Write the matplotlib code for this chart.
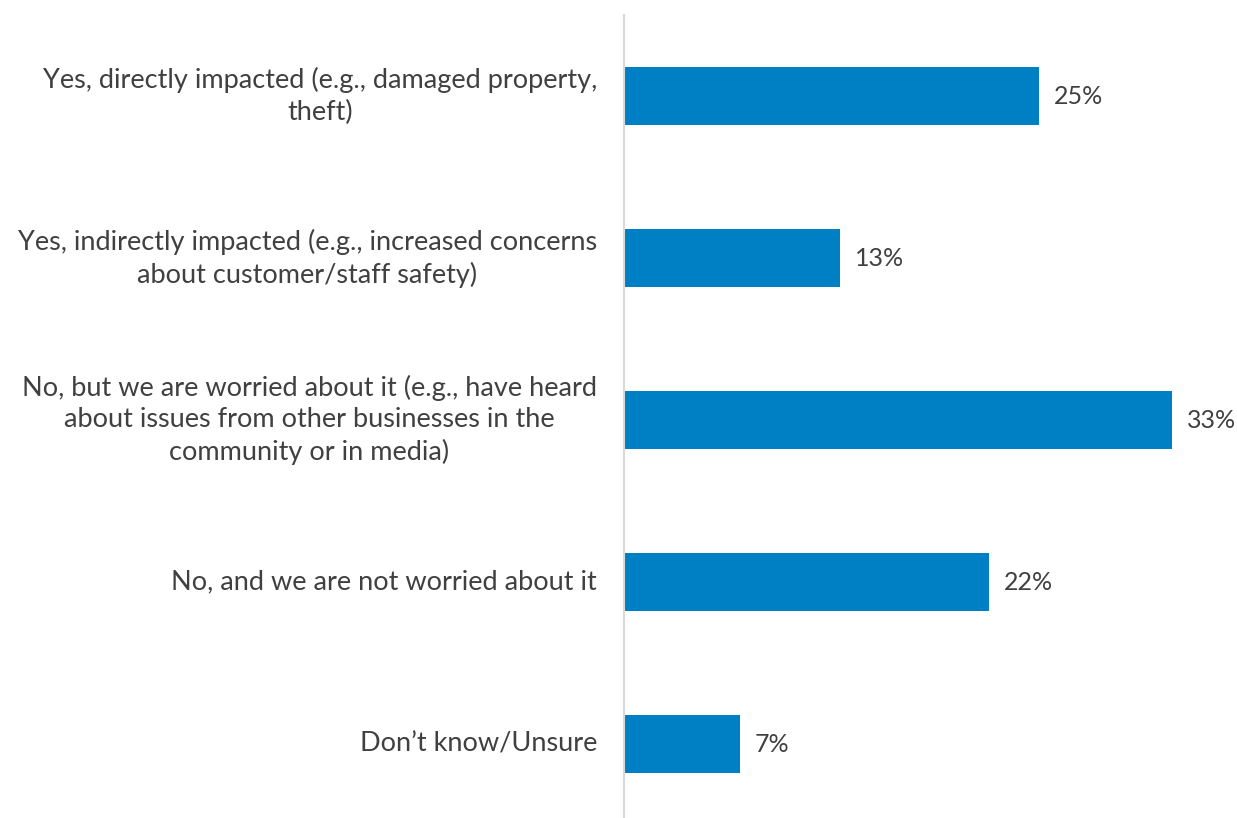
import matplotlib
matplotlib.use("Agg")
import matplotlib.pyplot as plt

plt.rcParams['font.family'] = ['Lato', 'DejaVu Sans']

categories = [
    "Yes, directly impacted (e.g., damaged property,\ntheft)",
    "Yes, indirectly impacted (e.g., increased concerns\nabout customer/staff safety)",
    "No, but we are worried about it (e.g., have heard\nabout issues from other businesses in the\ncommunity or in media)",
    "No, and we are not worried about it",
    "Don\u2019t know/Unsure",
]
values = [25, 13, 33, 22, 7]

bar_color = "#0080C4"
text_color = "#404040"
W, H = 1237, 818

fig = plt.figure(figsize=(W / 100, H / 100), dpi=100)
# axes spans from the vertical line to the end of the longest bar
left, right = 624 / W, 1172 / W
top, bottom = (H - 15) / H, (H - 825) / H
ax = fig.add_axes([left, bottom, right - left, top - bottom])

y = list(range(len(categories)))
ax.barh(y, values, height=0.355, color=bar_color)
ax.set_xlim(0, max(values))
ax.set_ylim(len(categories) - 0.5, -0.5)

for yi, v in zip(y, values):
    ax.annotate(f"{v}%", (v, yi), xytext=(10.5, 0), textcoords="offset points",
                va="center", ha="left", fontsize=18, color=text_color,
                annotation_clip=False)

for yi, label in zip(y, categories):
    ax.annotate(label, (0, yi), xytext=(-19.5, 0), textcoords="offset points",
                va="center", ha="right", multialignment="center",
                fontsize=19.5, color=text_color, linespacing=1.33,
                annotation_clip=False)

ax.set_xticks([])
ax.set_yticks([])
for side in ("top", "right", "bottom"):
    ax.spines[side].set_visible(False)
ax.spines["left"].set_color("#D9D9D9")
ax.spines["left"].set_linewidth(1.5)

fig.savefig("out.png", dpi=100)
